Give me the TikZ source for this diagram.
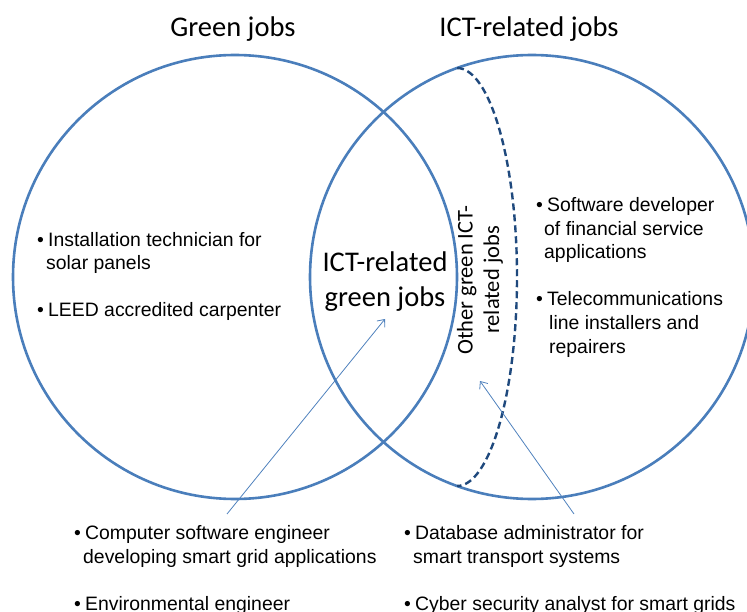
\documentclass[tikz,border=0pt]{standalone}
\usepackage{fontspec}
\setmainfont{Carlito}
\newfontfamily\listfont{Liberation Sans}
\usetikzlibrary{arrows.meta}
\definecolor{setblue}{RGB}{74,126,187}
\definecolor{darkblue}{RGB}{31,73,125}
\definecolor{arrowblue}{RGB}{79,129,189}
\newcommand{\bul}{\makebox[11pt][l]{\textbullet}}
\tikzset{
set/.style={circle, draw=setblue, line width=2.6pt, minimum size=444pt, inner sep=0pt},
title/.style={font=\fontsize{28.5}{35}\selectfont, inner sep=0pt},
item/.style={font=\listfont\fontsize{19.4}{23.7}\selectfont, align=left, anchor=base west, inner sep=0pt},
pointer/.style={-{Straight Barb[length=6pt,width=10pt]}, draw=arrowblue, line width=0.8pt},
subset/.style={draw=darkblue, line width=2.4pt, dash pattern=on 7pt off 4pt},
}

\begin{document}
\begin{tikzpicture}[x=1pt, y=-1pt]
    \useasboundingbox (0,0) rectangle (747,612);

    \node[set] (greenset) at (235,277) {};
    \node[set] (ictset) at (532,277) {};
    \node[title] (greentitle) at (233,29) {Green jobs};
    \node[title] (icttitle) at (529,29) {ICT-related jobs};

    \node[title, align=center] (overlap) at (385,282) {ICT-related\\green jobs};
    \node[rotate=90, align=center, inner sep=0pt, font=\fontsize{22.5}{26.5}\selectfont] (other) at (480,280) {Other green ICT-\\related jobs};

    % dashed subset inside ICT circle
    \coordinate (dashtop) at (457,68);
    \coordinate (dashbot) at (457,486);
    \draw[subset] (dashtop) .. controls (490,68) and (517,162) .. (517,277)
        .. controls (517,392) and (490,486) .. (dashbot);

    \node[item] (solar) at (37,270) {\bul Installation technician for\\\hspace*{9pt}solar panels};
    \node[item] (leed) at (37,317) {\bul LEED accredited carpenter};
    \node[item] (software) at (536,259) {\bul Software developer\\\hspace*{8pt}of financial service\\\hspace*{8pt}applications};
    \node[item] (telecom) at (536,353) {\bul Telecommunications\\\hspace*{13pt}line installers and\\\hspace*{13pt}repairers};
    \node[item] (smartgrid) at (74,563) {\bul Computer software engineer\\\hspace*{9pt}developing smart grid applications};
    \node[item] (envir) at (74,610) {\bul Environmental engineer};
    \node[item] (database) at (404,563) {\bul Database administrator for\\\hspace*{9pt}smart transport systems};
    \node[item] (cyber) at (404,610) {\bul Cyber security analyst for smart grids};

    \coordinate (gridtail) at (227,514);
    \coordinate (gridtip) at (385,319);
    \coordinate (dbtail) at (574,514);
    \coordinate (dbtip) at (480,381);
    \draw[pointer] (gridtail) -- (gridtip);
    \draw[pointer] (dbtail) -- (dbtip);

\end{tikzpicture}
\end{document}
